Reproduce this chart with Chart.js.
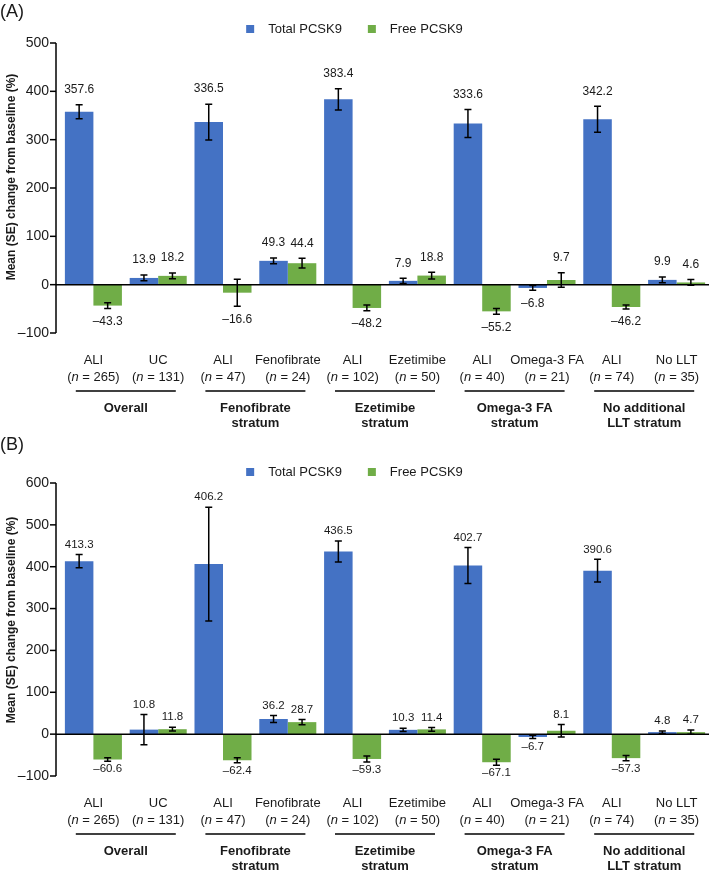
<!DOCTYPE html>
<html>
<head>
<meta charset="utf-8">
<script src="https://cdn.jsdelivr.net/npm/chart.js@4.4.1/dist/chart.umd.min.js"></script>
<style>
  html, body { margin: 0; padding: 0; background: #fff; overflow: hidden; }
  .panel { position: relative; width: 709px; }
  #panelA { height: 436px; }
  #panelB { height: 435px; }
</style>
</head>
<body>
<div class="panel" id="panelA"><canvas id="chartA"></canvas></div>
<div class="panel" id="panelB"><canvas id="chartB"></canvas></div>
<script>
// categories
const arms = ['ALI', 'UC', 'ALI', 'Fenofibrate', 'ALI', 'Ezetimibe', 'ALI', 'Omega-3 FA', 'ALI', 'No LLT'];
const armN = [265, 131, 47, 24, 102, 50, 40, 21, 74, 35];
const strata = [['Overall'], ['Fenofibrate', 'stratum'], ['Ezetimibe', 'stratum'], ['Omega-3 FA', 'stratum'], ['No additional', 'LLT stratum']];
const seriesNames = ['Total PCSK9', 'Free PCSK9'];

// panel A
const totalA = [357.6, 13.9, 336.5, 49.3, 383.4, 7.9, 333.6, -6.8, 342.2, 9.9];
const totalSeA = [14.5, 6, 37, 6, 22, 5.5, 29, 5, 27, 6];
const freeA = [-43.3, 18.2, -16.6, 44.4, -48.2, 18.8, -55.2, 9.7, -46.2, 4.6];
const freeSeA = [6, 6, 28, 10, 6, 7, 6, 15, 4, 6];
const ticksA = [-100, 0, 100, 200, 300, 400, 500];

// panel B
const totalB = [413.3, 10.8, 406.2, 36.2, 436.5, 10.3, 402.7, -6.7, 390.6, 4.8];
const totalSeB = [16, 36, 136, 8.5, 25, 4, 43, 4, 27, 3];
const freeB = [-60.6, 11.8, -62.4, 28.7, -59.3, 11.4, -67.1, 8.1, -57.3, 4.7];
const freeSeB = [4, 4.5, 6, 6, 7, 4.5, 7, 15, 6, 5];
const ticksB = [-100, 0, 100, 200, 300, 400, 500, 600];

const BLUE = '#4472c4';
const GREEN = '#70ad47';
const INK = '#1a1a1a';
const FONT = '"Liberation Sans", Arial, sans-serif';

function dash(v) {
    return String(v).replace('-', '\u2013');
}

// draws axis, zero line, error bars, value labels, x labels, legend, titles
const decorPlugin = {
    id: 'decor',
    afterDatasetsDraw(chart, args, opts) {
        const ctx = chart.ctx;
        const y = chart.scales.y;
        const area = chart.chartArea;
        const axisX = area.left - 5;
        ctx.save();
        ctx.strokeStyle = '#000';
        ctx.lineWidth = 1.5;

        // zero line
        ctx.beginPath();
        ctx.moveTo(axisX, y.getPixelForValue(0));
        ctx.lineTo(area.right, y.getPixelForValue(0));
        ctx.stroke();

        // y axis
        ctx.beginPath();
        ctx.moveTo(axisX, y.getPixelForValue(opts.ticks[opts.ticks.length - 1]));
        ctx.lineTo(axisX, y.getPixelForValue(opts.ticks[0]));
        ctx.stroke();
        ctx.fillStyle = INK;
        ctx.font = '14px ' + FONT;
        ctx.textAlign = 'right';
        ctx.textBaseline = 'middle';
        opts.ticks.forEach(t => {
            const py = y.getPixelForValue(t);
            ctx.beginPath();
            ctx.moveTo(axisX - 6, py);
            ctx.lineTo(axisX, py);
            ctx.stroke();
            ctx.fillText(dash(t), axisX - 7, py);
        });

        // error bars and value labels
        ctx.textAlign = 'center';
        ctx.font = opts.valueFont + 'px ' + FONT;
        chart.data.datasets.forEach((ds, di) => {
            const meta = chart.getDatasetMeta(di);
            meta.data.forEach((bar, i) => {
                const v = ds.data[i];
                const se = ds.se[i];
                const top = y.getPixelForValue(v + se);
                const bot = y.getPixelForValue(v - se);
                ctx.beginPath();
                ctx.moveTo(bar.x, top);
                ctx.lineTo(bar.x, bot);
                ctx.moveTo(bar.x - 3.5, top);
                ctx.lineTo(bar.x + 3.5, top);
                ctx.moveTo(bar.x - 3.5, bot);
                ctx.lineTo(bar.x + 3.5, bot);
                ctx.stroke();
                const ly = v >= 0 ? top - opts.above : bot + opts.below;
                ctx.fillText(dash(v.toFixed(1)), bar.x, ly);
            });
        });
        ctx.restore();
    },
    afterDraw(chart, args, opts) {
        const ctx = chart.ctx;
        const x = chart.scales.x;
        const area = chart.chartArea;
        ctx.save();
        ctx.fillStyle = INK;
        ctx.strokeStyle = '#000';
        ctx.textBaseline = 'middle';

        // arm labels with n
        arms.forEach((arm, i) => {
            const cx = x.getPixelForValue(i);
            ctx.font = '13px ' + FONT;
            ctx.textAlign = 'center';
            ctx.fillText(arm, cx, area.bottom + 27);
            const parts = [['(', '13px '], ['n', 'italic 13px '], [' = ' + armN[i] + ')', '13px ']];
            let w = 0;
            parts.forEach(p => { ctx.font = p[1] + FONT; w += ctx.measureText(p[0]).width; });
            let px = cx - w / 2;
            ctx.textAlign = 'left';
            parts.forEach(p => {
                ctx.font = p[1] + FONT;
                ctx.fillText(p[0], px, area.bottom + 44);
                px += ctx.measureText(p[0]).width;
            });
        });

        // strata underline and names
        ctx.lineWidth = 1.5;
        ctx.textAlign = 'center';
        ctx.font = 'bold 13px ' + FONT;
        strata.forEach((lines, g) => {
            const cx = (x.getPixelForValue(g * 2) + x.getPixelForValue(g * 2 + 1)) / 2;
            ctx.beginPath();
            ctx.moveTo(cx - 50, area.bottom + 58);
            ctx.lineTo(cx + 50, area.bottom + 58);
            ctx.stroke();
            lines.forEach((t, k) => ctx.fillText(t, cx, area.bottom + 75 + k * 15));
        });

        // legend
        ctx.font = '13px ' + FONT;
        ctx.textAlign = 'left';
        const colors = [BLUE, GREEN];
        const widths = seriesNames.map(s => ctx.measureText(s).width);
        const total = widths[0] + widths[1] + 2 * 22 + 26;
        let lx = (chart.width - total) / 2;
        seriesNames.forEach((s, k) => {
            ctx.fillStyle = colors[k];
            ctx.fillRect(lx, opts.legendY - 4, 8, 8);
            ctx.fillStyle = INK;
            ctx.fillText(s, lx + 22, opts.legendY);
            lx += 22 + widths[k] + 26;
        });

        // panel letter
        ctx.font = '18px ' + FONT;
        ctx.fillText(opts.letter, 0, opts.letterY);

        // y title
        ctx.translate(12, opts.titleY);
        ctx.rotate(-Math.PI / 2);
        ctx.textAlign = 'center';
        ctx.font = 'bold 12px ' + FONT;
        ctx.fillText('Mean (SE) change from baseline (%)', 0, 0);
        ctx.restore();
    }
};

function makeChart(id, total, totalSe, free, freeSe, ticks, pad, decor) {
    return new Chart(document.getElementById(id), {
        type: 'bar',
        data: {
            labels: arms,
            datasets: [
                { label: seriesNames[0], data: total, se: totalSe, backgroundColor: BLUE },
                { label: seriesNames[1], data: free, se: freeSe, backgroundColor: GREEN }
            ]
        },
        options: {
            responsive: true,
            maintainAspectRatio: false,
            animation: false,
            devicePixelRatio: 1,
            barPercentage: 1,
            categoryPercentage: 0.88,
            layout: { padding: pad },
            scales: {
                x: { display: false },
                y: { display: false, min: ticks[0], max: ticks[ticks.length - 1] }
            },
            plugins: {
                legend: { display: false },
                tooltip: { enabled: false },
                decor: decor
            }
        },
        plugins: [decorPlugin]
    });
}

makeChart('chartA', totalA, totalSeA, freeA, freeSeA, ticksA,
    { left: 61, right: 0, top: 43, bottom: 103 },
    { ticks: ticksA, valueFont: 12, above: 15, below: 13, legendY: 29, letter: '(A)', letterY: 12, titleY: 177 });

makeChart('chartB', totalB, totalSeB, freeB, freeSeB, ticksB,
    { left: 61, right: 0, top: 47, bottom: 95 },
    { ticks: ticksB, valueFont: 11.5, above: 10, below: 8, legendY: 36, letter: '(B)', letterY: 9, titleY: 184 });
</script>
</body>
</html>
